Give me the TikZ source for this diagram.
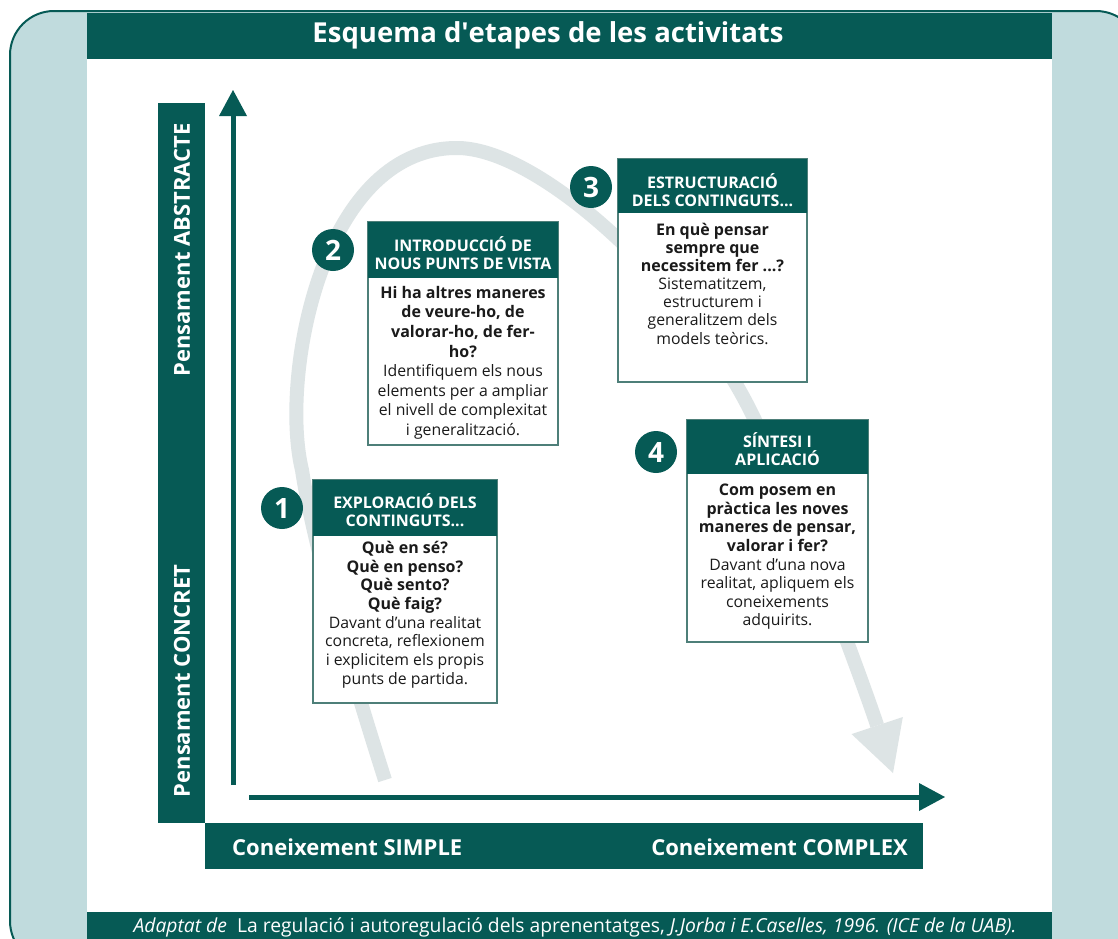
\documentclass[tikz,border=0pt]{standalone}
\usepackage{fontspec}
\setmainfont{Open Sans}
\usetikzlibrary{arrows.meta}
\definecolor{dg}{HTML}{065A55}
\definecolor{lb}{HTML}{C0DBDD}
\definecolor{cg}{HTML}{DDE4E5}
\definecolor{bb}{HTML}{4E7F79}
\definecolor{tx}{HTML}{1A1A1A}
\newcommand{\bq}[1]{{\fontsize{16}{10}\selectfont\bfseries #1}}
\begin{document}
\begin{tikzpicture}[x=1pt,y=-1pt,
  hdr/.style={font=\fontsize{16}{18.5}\selectfont\bfseries, text=white, align=center, inner sep=0pt},
  bodytxt/.style={font=\fontsize{15.8}{#1}\selectfont, text=tx, align=center, anchor=north, inner sep=0pt},
  bodytxt/.default=18.7,
  num/.style={circle, fill=dg, text=white, minimum size=42pt, inner sep=0pt, font=\fontsize{28}{28}\selectfont\bfseries},
  axlbl/.style={font=\fontsize{22}{22}\selectfont\bfseries, text=white, inner sep=0pt},
  boxframe/.style={draw=bb, line width=2pt, fill=white},
  axis/.style={dg, line width=5pt, -{Triangle[width=28pt,length=26pt,line width=0pt]}},
  flow/.style={cg, line width=14pt, -{Triangle[width=54pt,length=50pt,line width=0pt]}}
]
\useasboundingbox (0,0) rectangle (1118,938);
% frame
\draw[dg, line width=2pt, fill=lb, rounded corners=44pt] (10,11) rectangle (1140,965);
\fill[white] (87,13) rectangle (1052,938);
\fill[dg] (87,13) rectangle (1052,59);
\fill[dg] (87,912) rectangle (1052,940);
\node[font=\fontsize{27.5}{27.5}\selectfont\bfseries, text=white] (title) at (548,35) {Esquema d\textquotesingle etapes de les activitats};
\node[font=\fontsize{19.3}{19.3}\selectfont, text=white] (foot) at (575,927) {\textit{Adaptat de}\ \ La regulació i autoregulació dels aprenentatges, \textit{J.Jorba i E.Caselles, 1996. (ICE de la UAB).}};
% axis label bars
\fill[dg] (158,103) rectangle (205,823);
\fill[dg] (205,823) rectangle (923,869);
\node[axlbl, rotate=90] (absL) at (182,250) {Pensament ABSTRACTE};
\node[axlbl, rotate=90] (conL) at (182,681) {Pensament CONCRET};
\node[axlbl, anchor=west] (simL) at (232,847) {Coneixement SIMPLE};
\node[axlbl, anchor=east] (comL) at (908,847) {Coneixement COMPLEX};
% axes
\coordinate (vo) at (233,785);
\coordinate (vt) at (233,90);
\coordinate (ho) at (249,797);
\coordinate (ht) at (945,797);
\draw[axis] (vo) -- (vt);
\draw[axis] (ho) -- (ht);
% flow curve
\coordinate (fA) at (385,780);
\coordinate (fB) at (302,470);
\coordinate (fC) at (455,148);
\coordinate (fD) at (750,410);
\coordinate (fE) at (893,773);
\draw[flow] (fA) .. controls (356,689) and (314,550) .. (fB)
  .. controls (280,380) and (320,150) .. (fC)
  .. controls (540,146) and (690,290) .. (fD)
  .. controls (800,510) and (863,683) .. (fE);
% box 1
\draw[boxframe] (313,480) rectangle (497,703);
\fill[dg] (313,480) rectangle (497,536);
\node[hdr] (h1) at (405,510) {EXPLORACIÓ DELS\\CONTINGUTS...};
\node[bodytxt] (t1) at (405,541) {\bq{Què en sé?}\\\bq{Què en penso?}\\\bq{Què sento?}\\\bq{Què faig?}\\Davant d’una realitat\\concreta, reflexionem\\i explicitem els propis\\punts de partida.};
\node[num] (n1) at (282,508) {1};
% box 2
\draw[boxframe] (368,222) rectangle (558,445);
\fill[dg] (368,222) rectangle (558,278);
\node[hdr] (h2) at (463,253) {INTRODUCCIÓ DE\\NOUS PUNTS DE VISTA};
\node[bodytxt=19.6] (t2) at (463,286) {\bq{Hi ha altres maneres}\\\bq{de veure-ho, de}\\\bq{valorar-ho, de fer-}\\\bq{ho?}\\Identifiquem els nous\\elements per a ampliar\\el nivell de complexitat\\i generalització.};
\node[num] (n2) at (333,250) {2};
% box 3
\draw[boxframe] (618,159) rectangle (807,382);
\fill[dg] (618,159) rectangle (807,213);
\node[hdr] (h3) at (712.5,190) {ESTRUCTURACIÓ\\DELS CONTINGUTS...};
\node[bodytxt=18.1] (t3) at (712.5,223) {\bq{En què pensar}\\\bq{sempre que}\\\bq{necessitem fer ...?}\\Sistematitzem,\\estructurem i\\generalitzem dels\\models teòrics.};
\node[num] (n3) at (591,187) {3};
% box 4
\draw[boxframe] (687,420) rectangle (868,642);
\fill[dg] (687,420) rectangle (868,474);
\node[hdr] (h4) at (777.5,449) {SÍNTESI I\\APLICACIÓ};
\node[bodytxt=18.6] (t4) at (777.5,484) {\bq{Com posem en}\\\bq{pràctica les noves}\\\bq{maneres de pensar,}\\\bq{valorar i fer?}\\Davant d’una nova\\realitat, apliquem els\\coneixements\\adquirits.};
\node[num] (n4) at (656,452) {4};
\end{tikzpicture}
\end{document}
